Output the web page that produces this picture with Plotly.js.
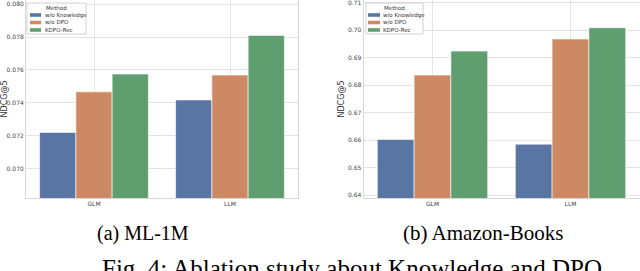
<!DOCTYPE html>
<html><head><meta charset="utf-8">
<script src="https://cdn.plot.ly/plotly-3.0.1.min.js"></script>
<style>html,body{margin:0;padding:0;background:#fff;}#c{width:640px;height:271px;}</style>
</head><body><div id="c"></div>
<script>
const methods = ["w/o Knowledge", "w/o DPO", "KDPO-Rec"];
const colors = ["#5875A4", "#CC8963", "#5F9E6E"];
const catsML = ["GLM", "LLM"];
const catsAB = ["GLM", "LLM"];
const ml1m = [[0.07220, 0.07418], [0.07467, 0.07569], [0.07575, 0.07810]];
const books = [[0.6603, 0.6586], [0.6837, 0.6968], [0.6924, 0.7009]];
const ticksML = [0.070, 0.072, 0.074, 0.076, 0.078, 0.080];
const ticksAB = [0.64, 0.65, 0.66, 0.67, 0.68, 0.69, 0.70, 0.71];

const W = 640, H = 271;
const px = v => v / W, py = v => 1 - v / H;

const traces = [];
methods.forEach((m, i) => {
  traces.push({type:'bar', x:catsML, y:ml1m[i], name:m, xaxis:'x', yaxis:'y', showlegend:false,
    marker:{color:colors[i], line:{color:'#ffffff', width:0.6}}, hoverinfo:'none'});
});
methods.forEach((m, i) => {
  traces.push({type:'bar', x:catsAB, y:books[i], name:m, xaxis:'x2', yaxis:'y2', showlegend:false,
    marker:{color:colors[i], line:{color:'#ffffff', width:0.6}}, hoverinfo:'none'});
});

const tickFont = {family:'DejaVu Sans', size:6, color:'#444'};
const grid = '#e3e3e3';
const axBase = {showgrid:true, gridcolor:grid, gridwidth:1, showline:true, linecolor:'#d8d8d8', linewidth:1, mirror:true, ticks:'', zeroline:false, tickfont:tickFont, fixedrange:true, ticklabeloverflow:'allow'};
const botY = (H-198)/H;

const shapes = [], annotations = [];
function addLegend(x0, x1, patchX0, patchX1, textX) {
  shapes.push({type:'rect', xref:'paper', yref:'paper', x0:px(x0), x1:px(x1), y0:py(34), y1:py(3),
    fillcolor:'rgba(255,255,255,0.9)', line:{color:'#d0d0d0', width:1}, layer:'above'});
  annotations.push({text:'Method', xref:'paper', yref:'paper', x:px((x0+x1)/2), y:py(8), xanchor:'center', yanchor:'middle',
    showarrow:false, font:{family:'DejaVu Sans', size:5.5, color:'#333'}});
  methods.forEach((m, i) => {
    const yc = 15 + i*7.5;
    shapes.push({type:'rect', xref:'paper', yref:'paper', x0:px(patchX0), x1:px(patchX1), y0:py(yc+1.8), y1:py(yc-1.8),
      fillcolor:colors[i], line:{width:0}, layer:'above'});
    annotations.push({text:m, xref:'paper', yref:'paper', x:px(textX), y:py(yc), xanchor:'left', yanchor:'middle',
      showarrow:false, font:{family:'DejaVu Sans', size:5.5, color:'#333'}});
  });
}
addLegend(27, 86, 30, 41, 43);
addLegend(366, 423, 368, 380, 381);

annotations.push(
  {text:'(a) ML-1M', xref:'paper', yref:'paper', x:px(143), y:py(233), xanchor:'center', yanchor:'middle', showarrow:false,
    font:{family:'Liberation Serif', size:20, color:'#000'}},
  {text:'(b) Amazon-Books', xref:'paper', yref:'paper', x:px(483), y:py(233), xanchor:'center', yanchor:'middle', showarrow:false,
    font:{family:'Liberation Serif', size:21, color:'#000'}},
  {text:'Fig. 4: Ablation study about Knowledge and DPO', xref:'paper', yref:'paper', x:px(352), y:py(268), xanchor:'center', yanchor:'middle', showarrow:false,
    font:{family:'Liberation Serif', size:25, color:'#000'}}
);

const layout = {
  width:W, height:H, margin:{l:0, r:0, t:0, b:0}, paper_bgcolor:'#fff', plot_bgcolor:'#fff',
  barmode:'group', bargap:0.2, bargroupgap:0, showlegend:false,
  xaxis:Object.assign({}, axBase, {domain:[px(26), px(298)], anchor:'y', type:'category', range:[-0.5,1.5]}),
  yaxis:Object.assign({}, axBase, {domain:[botY, 1], anchor:'x', range:[0.06822, 0.08025], tickvals:ticksML, tickformat:'.3f',
    title:{text:'NDCG@5', font:{family:'DejaVu Sans', size:8, color:'#333'}, standoff:2}}),
  xaxis2:Object.assign({}, axBase, {domain:[px(363.5), px(639.5)], anchor:'y2', type:'category', range:[-0.5,1.5]}),
  yaxis2:Object.assign({}, axBase, {domain:[botY, 1], anchor:'x2', range:[0.63902, 0.71098], tickvals:ticksAB, tickformat:'.2f',
    title:{text:'NDCG@5', font:{family:'DejaVu Sans', size:8, color:'#333'}, standoff:2}}),
  shapes:shapes, annotations:annotations
};
Plotly.newPlot('c', traces, layout, {staticPlot:true, displayModeBar:false});
</script></body></html>
